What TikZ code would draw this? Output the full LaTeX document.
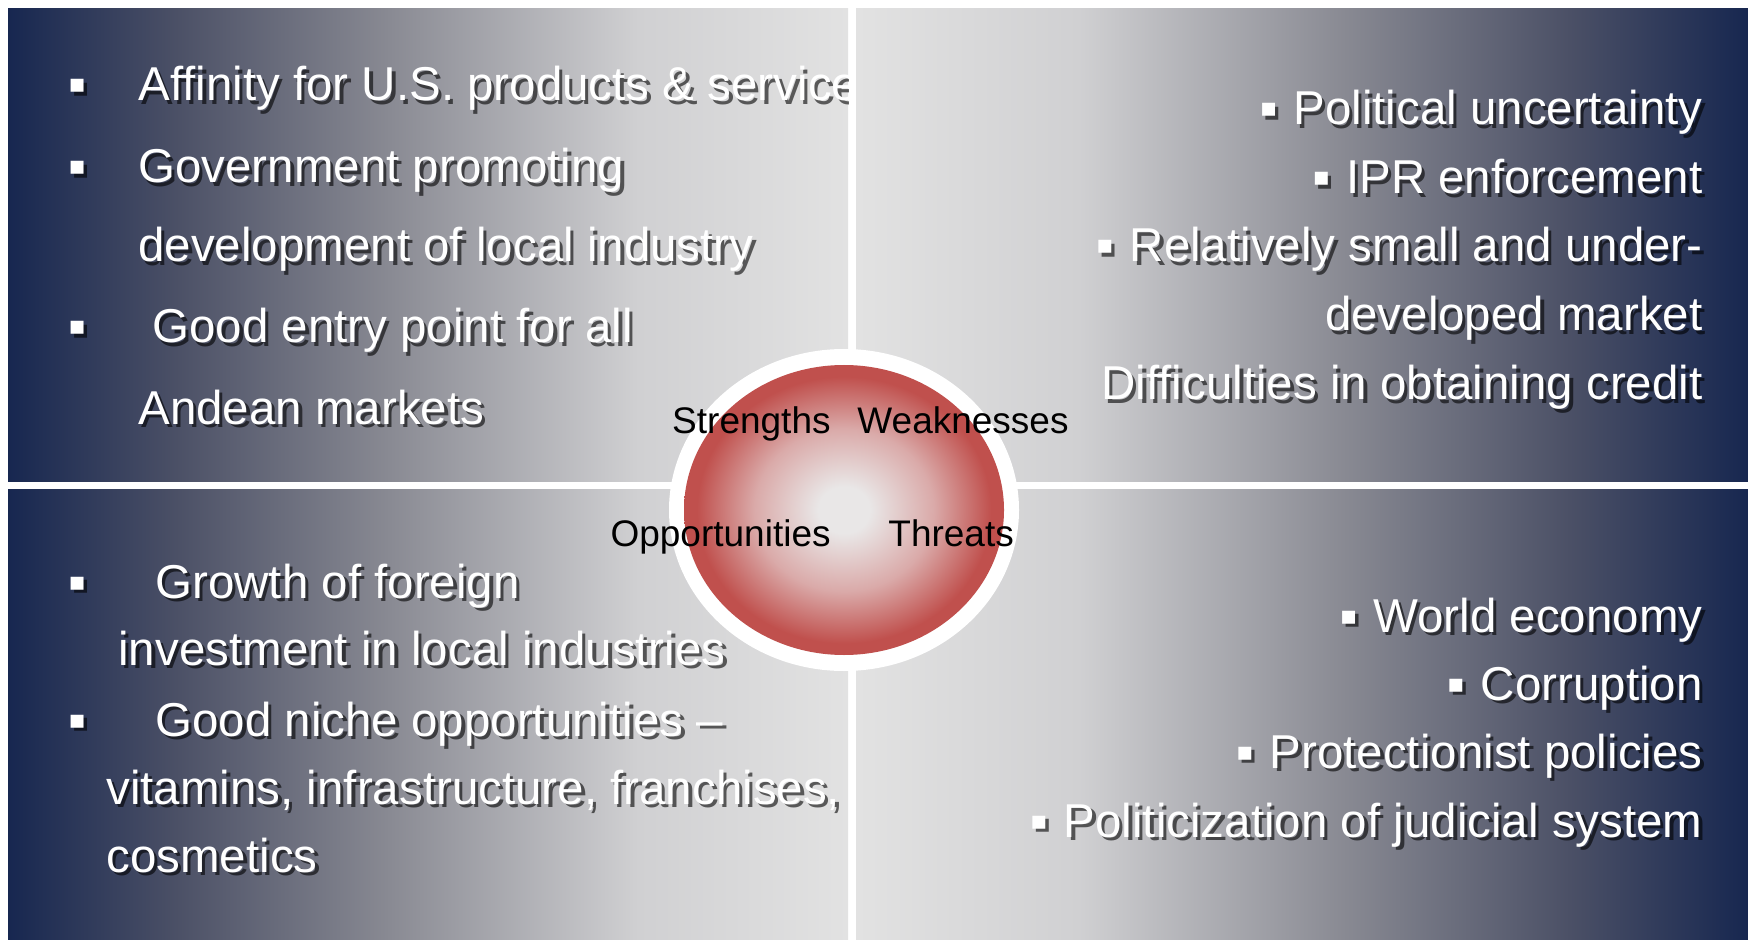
\documentclass[tikz,border=0pt]{standalone}
\usepackage{fontspec}
\setmainfont{Liberation Sans}[Ligatures=CommonOff]
\newfontfamily\bulletfont{DejaVu Sans}
\definecolor{swnavy}{RGB}{23,39,80}
\definecolor{swga}{RGB}{75,80,102}
\definecolor{swgb}{RGB}{136,137,146}
\definecolor{swgc}{RGB}{208,208,210}
\definecolor{swgd}{RGB}{226,226,226}
\definecolor{swlight}{RGB}{233,231,231}
\definecolor{swpink}{RGB}{218,170,169}
\definecolor{swred}{RGB}{192,80,77}
\pgfdeclarehorizontalshading{swpanel}{100bp}{color(0bp)=(swnavy); color(25bp)=(swnavy); color(35bp)=(swga); color(47.5bp)=(swgb); color(62.5bp)=(swgc); color(75bp)=(swgd); color(100bp)=(swgd)}
\pgfdeclareradialshading{swball}{\pgfpoint{0bp}{0bp}}{color(0bp)=(swlight); color(4bp)=(swlight); color(14bp)=(swpink); color(23bp)=(swred); color(50bp)=(swred)}
\newcommand{\swbul}{\raisebox{4pt}{\bulletfont\fontsize{13}{13}\selectfont ▪}}
\newcommand{\swline}[4]{%
  \node[swshadow,anchor=#2] at (#3) {#4};
  \node[swtext,anchor=#2] (#1) at (#3) {#4};}
\begin{document}
\begin{tikzpicture}[x=0.5pt,y=-0.5pt,
  swtext/.style={inner sep=0pt,text=white,font=\fontsize{23.75}{28}\selectfont},
  swshadow/.style={swtext,text=black,text opacity=0.6,xshift=1.7pt,yshift=-1.7pt},
  swlabel/.style={inner sep=0pt,text=black,font=\fontsize{18.5}{22}\selectfont},
  swleft/.style={shading=swpanel},
  swright/.style={shading=swpanel,shading angle=180}]
\useasboundingbox (0,0) rectangle (1748,940);
\fill[white] (0,0) rectangle (1748,940);
% panels
\shade[swleft] (8,9) rectangle (848,481);
\shade[swright] (856,9) rectangle (1748,481);
\shade[swleft] (8,489) rectangle (848,940);
\shade[swright] (856,489) rectangle (1748,940);
% strengths
\begin{scope}
\clip (8,9) rectangle (848,481);
\swline{s1b}{base west}{68,101}{\swbul}
\swline{s1}{base west}{138,101}{Affinity for U.S. products \& service}
\swline{s2b}{base west}{68,183}{\swbul}
\swline{s2}{base west}{138,183}{Government promoting}
\swline{s3}{base west}{138,262}{development of local industry}
\swline{s4b}{base west}{68,343}{\swbul}
\swline{s4}{base west}{152,343}{Good entry point for all}
\swline{s5}{base west}{138,424}{Andean markets}
\end{scope}
% weaknesses
\swline{w1}{base east}{1703,125}{\swbul\hspace{8pt}Political uncertainty}
\swline{w2}{base east}{1703,194}{\swbul\hspace{8pt}IPR enforcement}
\swline{w3}{base east}{1703,262}{\swbul\hspace{8pt}Relatively small and under-}
\swline{w4}{base east}{1703,331}{developed market}
\swline{w5}{base east}{1703,400}{Difficulties in obtaining credit}
% opportunities
\swline{o1b}{base west}{68,598}{\swbul}
\swline{o1}{base west}{155,598}{Growth of foreign}
\swline{o2}{base west}{118,665}{investment in local industries}
\swline{o3b}{base west}{68,736}{\swbul}
\swline{o3}{base west}{155,736}{Good niche opportunities –}
\swline{o4}{base west}{106,804}{vitamins, infrastructure, franchises,}
\swline{o5}{base west}{106,872}{cosmetics}
% threats
\swline{t1}{base east}{1703,632}{\swbul\hspace{8pt}World economy}
\swline{t2}{base east}{1703,700}{\swbul\hspace{8pt}Corruption}
\swline{t3}{base east}{1703,768}{\swbul\hspace{8pt}Protectionist policies}
\swline{t4}{base east}{1703,837}{\swbul\hspace{8pt}Politicization of judicial system}
% central ball
\fill[white] (844,510) ellipse [x radius=87.5pt,y radius=80.5pt];
\shade[shading=swball] (844,510) ellipse [x radius=80pt,y radius=72.5pt];
\node[swlabel,anchor=base east] (ls) at (831,434) {Strengths};
\node[swlabel,anchor=base west] (lw) at (857,434) {Weaknesses};
\node[swlabel,anchor=base east] (lo) at (831,546) {Opportunities};
\node[swlabel,anchor=base west] (lt) at (888,546) {Threats};
\end{tikzpicture}
\end{document}
